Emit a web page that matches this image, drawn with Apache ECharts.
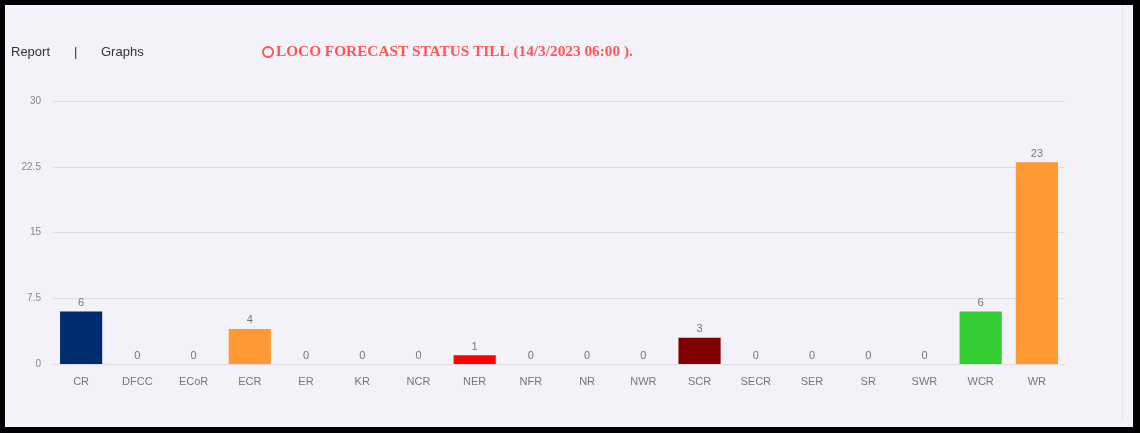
<!DOCTYPE html>
<html><head><meta charset="utf-8">
<script src="https://cdn.jsdelivr.net/npm/echarts@6/dist/echarts.min.js"></script>
<style>
html,body{margin:0;padding:0;background:#000;}
#wrap{position:absolute;left:0;top:0;width:1140px;height:433px;background:#000;}
#inner{position:absolute;left:5px;top:5px;width:1128px;height:422px;background:#f3f2f8;}
#vline{position:absolute;left:1122px;top:5px;width:1px;height:415px;background:#e2e2e8;}
#chart{position:absolute;left:0;top:0;width:1140px;height:433px;}
</style></head>
<body>
<div id="wrap"><div id="inner"></div><div id="vline"></div><div id="chart"></div></div>
<script>
const categories = ['CR','DFCC','ECoR','ECR','ER','KR','NCR','NER','NFR','NR','NWR','SCR','SECR','SER','SR','SWR','WCR','WR'];
const values = [6,0,0,4,0,0,0,1,0,0,0,3,0,0,0,0,6,23];
const barColors = ['#002b6e','#cccccc','#cccccc','#ff9933','#cccccc','#cccccc','#cccccc','#ff0000','#cccccc','#cccccc','#cccccc','#800000','#cccccc','#cccccc','#cccccc','#cccccc','#33cc33','#ff9933'];
const yTicks = [0, 7.5, 15, 22.5, 30];

const chart = echarts.init(document.getElementById('chart'), null, {renderer:'canvas'});
chart.setOption({
  backgroundColor: 'transparent',
  animation: false,
  grid: {left: 53, right: 75, top: 101, bottom: 69, containLabel: false},
  graphic: [
    {type:'text', left: 11, top: 46, style:{text:'Report', font:'13px "Liberation Sans", Arial, sans-serif', fill:'#333'}},
    {type:'text', left: 74, top: 46, style:{text:'|', font:'13px "Liberation Sans", Arial, sans-serif', fill:'#333'}},
    {type:'text', left: 101, top: 46, style:{text:'Graphs', font:'13px "Liberation Sans", Arial, sans-serif', fill:'#333'}},
    {type:'circle', shape:{cx:268, cy:52, r:5}, style:{fill:'none', stroke:'#ff5555', lineWidth:2}},
    {type:'text', left: 276, top: 45, style:{text:'LOCO FORECAST STATUS TILL (14/3/2023 06:00 ).', font:'bold 15.3px "Liberation Serif", "Times New Roman", serif', fill:'#ff5555'}}
  ],
  xAxis: {
    type: 'category',
    data: categories,
    axisLine: {lineStyle: {color: '#dcdce2'}},
    axisTick: {show: false},
    axisLabel: {color: '#777', fontSize: 11, margin: 12, fontFamily: '"Liberation Sans", Arial, sans-serif'}
  },
  yAxis: {
    type: 'value',
    min: 0, max: 30, interval: 7.5,
    axisLine: {show: false},
    axisTick: {show: false},
    splitLine: {lineStyle: {color: '#dcdce2'}},
    axisLabel: {color: '#888', fontSize: 10, margin: 12, fontFamily: '"Liberation Sans", Arial, sans-serif',
      formatter: v => yTicks.includes(v) ? String(v) : ''}
  },
  series: [{
    type: 'bar',
    barWidth: '75%',
    data: values.map((v,i) => ({value: v, itemStyle: {color: barColors[i]}})),
    label: {show: true, position: 'top', color: '#777', fontSize: 11, distance: 3, fontFamily: '"Liberation Sans", Arial, sans-serif'}
  }]
});
</script>
</body></html>
